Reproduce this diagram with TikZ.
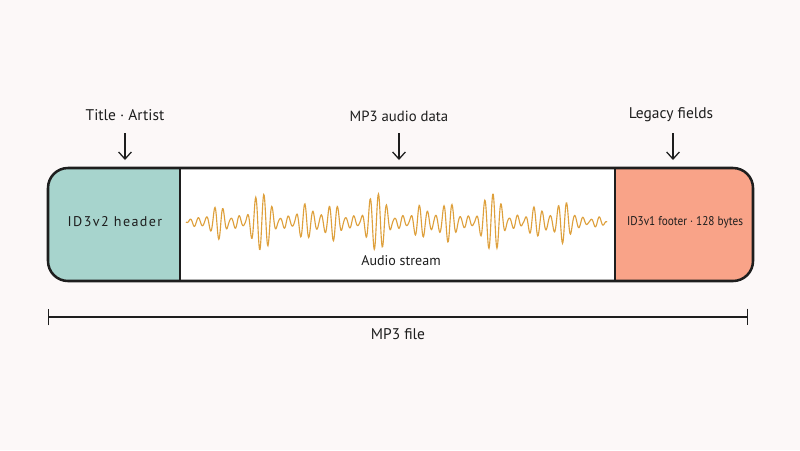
\documentclass[tikz,border=0pt]{standalone}
\usepackage{fontspec}
\setmainfont{PT Sans}
\usetikzlibrary{arrows.meta}
\definecolor{paper}{RGB}{252,248,248}
\definecolor{ink}{RGB}{30,30,30}
\definecolor{headteal}{RGB}{167,212,205}
\definecolor{footsalmon}{RGB}{249,163,136}
\definecolor{waveamber}{RGB}{222,160,60}

\begin{document}
\begin{tikzpicture}[
  x=0.025cm, y=-0.025cm,
  lbl/.style={text=ink, font=\fontsize{11}{13}\selectfont, inner sep=1pt},
  seglbl/.style={text=ink, font=\fontsize{9.5}{11}\selectfont, inner sep=1pt},
  down/.style={draw=ink, line width=0.9pt, -{Straight Barb[length=5pt, width=9pt]}},
  wave/.style={draw=waveamber, line width=0.8pt},
]
  % canvas
  \fill[paper] (0,0) rectangle (800,450);

  % segments of the file
  \fill[headteal] (180,168) [rounded corners=0.5cm] -- (48,168) -- (48,281) [sharp corners] -- (180,281) -- cycle;
  \fill[white] (180,168) rectangle (615,281);
  \fill[footsalmon] (615,168) [rounded corners=0.5cm] -- (753,168) -- (753,281) [sharp corners] -- (615,281) -- cycle;
  \draw[ink, line width=1.1pt] (180,168) -- (180,281);
  \draw[ink, line width=1.1pt] (615,168) -- (615,281);
  \draw[ink, line width=1.8pt, rounded corners=0.5cm] (48,168) rectangle (753,281);

  % waveform
  \draw[wave] plot[domain=186:607, samples=900, smooth]
    (\x, {222 - min(1,(\x-186)/30,(607-\x)/30)*(2 + 25*abs(sin(3.1*\x)*cos(4.7*\x+30))^1.6 + 4*abs(sin(11*\x)))*sin(44*mod(\x,90))});

  % texts inside the bar
  \node[seglbl, font=\fontsize{10}{12}\selectfont\addfontfeature{LetterSpace=10}] (hdr) at (115,222) {ID3v2 header};
  \node[seglbl, font=\fontsize{9}{11}\selectfont\addfontfeature{FakeStretch=0.89}] (ftr) at (685,222) {ID3v1 footer · 128 bytes};
  \node[lbl, font=\fontsize{10}{12}\selectfont] (strm) at (401,261) {Audio stream};

  % labels above
  \node[lbl] (tags) at (125,115) {Title · Artist};
  \node[lbl, font=\fontsize{10.5}{12}\selectfont] (data) at (399,116) {MP3 audio data};
  \node[lbl] (lgcy) at (671,115) {Legacy fields};
  \coordinate (tagsend) at (125,160);
  \coordinate (dataend) at (399,160);
  \coordinate (lgcyend) at (673,160);
  \draw[down] (tags.south |- 0,133) -- (tagsend);
  \draw[down] (data.south |- 0,133) -- (dataend);
  \draw[down] (673,133) -- (lgcyend);

  % file extent
  \coordinate (fstart) at (48,317);
  \coordinate (fend) at (748,317);
  \draw[ink, line width=0.9pt, {Bar[width=12pt]}-{Bar[width=12pt]}] (fstart) -- (fend);
  \node[lbl] (file) at (398,334) {MP3 file};
\end{tikzpicture}
\end{document}
